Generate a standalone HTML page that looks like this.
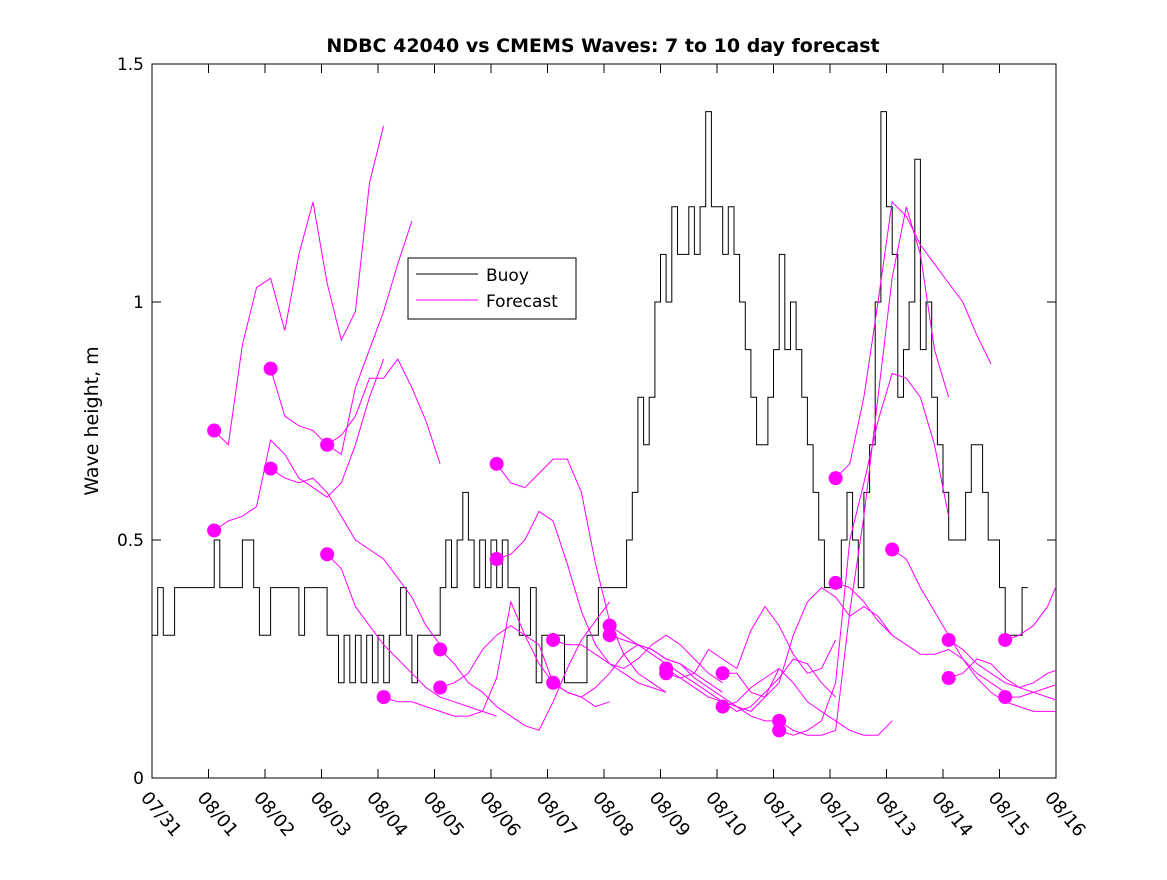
<!DOCTYPE html>
<html><head><meta charset="utf-8">
<style>
body{margin:0;background:#fff;}
svg{font-family:"DejaVu Sans","Liberation Sans",sans-serif;}
</style></head>
<body>
<svg id="chart" width="1167" height="875">
<defs><clipPath id="plotclip"><rect x="152" y="64" width="904" height="714"/></clipPath></defs>
<rect x="0" y="0" width="1167" height="875" fill="#fff"/>
<text x="603" y="52" text-anchor="middle" font-size="19" font-weight="bold">NDBC 42040 vs CMEMS Waves: 7 to 10 day forecast</text>
<text transform="translate(98,421) rotate(-90)" text-anchor="middle" font-size="19">Wave height, m</text>
<g id="axes"></g>
<g id="series" clip-path="url(#plotclip)"></g>
<g>
<rect x="408" y="258" width="168" height="61" fill="#fff" stroke="#000" stroke-width="1"/>
<line x1="416" y1="274" x2="478" y2="274" stroke="#000" stroke-width="1"/>
<text x="486" y="281" font-size="17">Buoy</text>
<line x1="416" y1="300" x2="478" y2="300" stroke="#f0f" stroke-width="1"/>
<text x="486" y="307" font-size="17">Forecast</text>
</g>
</svg>
<script>
const xTickLabels=["07/31","08/01","08/02","08/03","08/04","08/05","08/06","08/07","08/08","08/09","08/10","08/11","08/12","08/13","08/14","08/15","08/16"];
const yTicks=[0,0.5,1,1.5];
const yTickLabels=["0","0.5","1","1.5"];
const buoyStart=0, buoyStep=0.1;
const buoy=[0.3,0.4,0.3,0.3,0.4, 0.4,0.4,0.4,0.4,0.4, 0.4,0.5,0.4,0.4,0.4, 0.4,0.5,0.5,0.4,0.3,
0.3,0.4,0.4,0.4,0.4, 0.4,0.3,0.4,0.4,0.4, 0.4,0.3,0.3,0.2,0.3, 0.2,0.3,0.2,0.3,0.2,
0.3,0.2,0.3,0.3,0.4, 0.3,0.2,0.3,0.3,0.3, 0.3,0.4,0.5,0.4,0.5, 0.6,0.5,0.4,0.5,0.4,
0.5,0.4,0.5,0.4,0.4, 0.3,0.3,0.4,0.2,0.3, 0.3,0.3,0.3,0.2,0.2, 0.2,0.2,0.3,0.3,0.4,
0.4,0.4,0.4,0.4,0.5, 0.6,0.8,0.7,0.8,1.0, 1.1,1.0,1.2,1.1,1.1, 1.2,1.1,1.2,1.4,1.2,
1.2,1.1,1.2,1.1,1.0, 0.9,0.8,0.7,0.7,0.8, 0.9,1.1,0.9,1.0,0.9, 0.8,0.7,0.6,0.5,0.4,
0.4,0.4,0.5,0.6,0.5, 0.4,0.6,0.7,1.0,1.4, 1.2,1.1,0.8,0.9,1.0, 1.3,0.9,1.0,0.8,0.7,
0.6,0.5,0.5,0.5,0.6, 0.7,0.7,0.6,0.5,0.5, 0.4,0.3,0.3,0.3,0.4];
const fcStep=0.25;
const fcStarts=[1.1,1.1,2.1,2.1,3.1,3.1,4.1,5.1,5.1,6.1,6.1,7.1,7.1,8.1,8.1,9.1,9.1,10.1,10.1,11.1,11.1,12.1,12.1,13.1,14.1,14.1,15.1,15.1];
const fcValues=[
[0.73,0.70,0.91,1.03,1.05,0.94,1.10,1.21,1.04,0.92,0.98,1.25,1.37],
[0.52,0.54,0.55,0.57,0.71,0.68,0.63,0.61,0.59,0.62,0.70,0.80,0.88],
[0.86,0.76,0.74,0.73,0.70,0.72,0.76,0.84,0.84,0.88,0.82,0.75,0.66],
[0.65,0.63,0.62,0.63,0.60,0.55,0.50,0.48,0.46,0.42,0.38,0.32,0.28],
[0.70,0.68,0.82,0.90,0.98,1.08,1.17],
[0.47,0.44,0.36,0.32,0.28,0.25,0.22,0.19,0.17,0.16,0.15,0.14,0.13],
[0.17,0.16,0.16,0.15,0.14,0.13,0.13,0.14,0.21,0.37,0.30,0.28,0.20],
[0.27,0.24,0.20,0.18,0.15,0.13,0.11,0.10,0.16,0.23,0.29,0.33,0.37],
[0.19,0.20,0.22,0.27,0.30,0.32,0.30,0.24,0.20,0.18,0.17,0.15,0.16],
[0.66,0.62,0.61,0.64,0.67,0.67,0.60,0.45,0.33,0.26,0.22,0.20,0.18],
[0.46,0.47,0.50,0.56,0.54,0.45,0.35,0.28,0.24,0.22,0.20,0.19,0.18],
[0.29,0.28,0.28,0.26,0.24,0.23,0.25,0.28,0.30,0.28,0.25,0.22,0.20],
[0.20,0.18,0.17,0.19,0.22,0.26,0.28,0.27,0.25,0.24,0.22,0.20,0.18],
[0.32,0.30,0.28,0.27,0.25,0.24,0.21,0.19,0.17,0.15,0.14,0.17,0.23],
[0.30,0.29,0.28,0.26,0.24,0.22,0.20,0.18,0.16,0.15,0.13,0.12,0.12],
[0.23,0.21,0.22,0.27,0.25,0.23,0.31,0.36,0.32,0.26,0.22,0.23,0.29],
[0.22,0.21,0.19,0.17,0.16,0.14,0.15,0.18,0.21,0.25,0.24,0.20,0.17],
[0.22,0.22,0.18,0.17,0.20,0.30,0.37,0.40,0.38,0.34,0.36,0.34,0.30],
[0.15,0.16,0.19,0.21,0.23,0.20,0.16,0.14,0.12,0.10,0.09,0.09,0.12],
[0.12,0.10,0.09,0.09,0.10,0.35,0.55,0.80,1.05,1.20,1.10,0.90,0.80],
[0.10,0.09,0.10,0.12,0.20,0.50,0.62,0.75,0.85,0.84,0.80,0.70,0.55],
[0.63,0.66,0.80,1.00,1.21,1.18,1.12,1.08,1.04,1.00,0.93,0.87],
[0.41,0.40,0.37,0.33,0.30,0.28,0.26,0.26,0.27,0.25,0.22,0.20,0.18],
[0.48,0.46,0.40,0.35,0.30,0.25,0.21,0.18,0.16,0.15,0.14,0.14,0.14],
[0.29,0.27,0.24,0.22,0.20,0.19,0.20,0.22,0.23,0.24,0.23,0.22,0.22],
[0.21,0.22,0.25,0.24,0.21,0.19,0.18,0.19,0.20,0.19,0.17,0.15,0.14],
[0.29,0.30,0.32,0.36,0.43,0.44],
[0.17,0.17,0.18,0.17,0.16,0.15,0.14,0.14]];

const NS="http://www.w3.org/2000/svg";
const X0=152,X1=1056,Y0=778,Y1=64,DAYS=16,YMAX=1.5;
const xs=d=>X0+(X1-X0)*d/DAYS;
const ys=v=>Y0-(Y0-Y1)*v/YMAX;
function mk(tag,attrs,parent){const e=document.createElementNS(NS,tag);for(const k in attrs)e.setAttribute(k,attrs[k]);parent.appendChild(e);return e;}
const axes=document.getElementById('axes'), ser=document.getElementById('series');

const frame=mk('rect',{x:X0,y:Y1,width:X1-X0,height:Y0-Y1,fill:'none',stroke:'#000','stroke-width':1},axes);


xTickLabels.forEach((lab,i)=>{
  const x=xs(i);
  const t1=mk('line',{x1:x,y1:Y0,x2:x,y2:Y0-9,stroke:'#000'},axes);
  
  
  const t2=mk('line',{x1:x,y1:Y1,x2:x,y2:Y1+9,stroke:'#000'},axes);
  
  
  const tx=mk('text',{x:0,y:0,'font-size':18,transform:`translate(${x-12},${Y0+20}) rotate(50)`},axes);
  tx.textContent=lab;
  
  
});
yTicks.forEach((v,i)=>{
  const y=ys(v);
  const t1=mk('line',{x1:X0,y1:y,x2:X0+9,y2:y,stroke:'#000'},axes);
  
  
  const t2=mk('line',{x1:X1,y1:y,x2:X1-9,y2:y,stroke:'#000'},axes);
  
  
  const tx=mk('text',{x:X0-8,y:y+6,'font-size':17,'text-anchor':'end'},axes);
  tx.textContent=yTickLabels[i];
  
  
});

let d='';
buoy.forEach((v,i)=>{
  const xa=xs(buoyStart+i*buoyStep), xb=xs(buoyStart+(i+1)*buoyStep);
  d+=(i===0?'M':'L')+xa.toFixed(1)+','+ys(v).toFixed(1)+'L'+xb.toFixed(1)+','+ys(v).toFixed(1);
});
const bp=mk('path',{d:d,fill:'none',stroke:'#000','stroke-width':1},ser);



fcValues.forEach((vals,k)=>{
  const s=fcStarts[k];
  const pts=vals.map((v,i)=>xs(s+i*fcStep).toFixed(1)+','+ys(v).toFixed(1)).join(' ');
  const pl=mk('polyline',{points:pts,fill:'none',stroke:'#f0f','stroke-width':1},ser);
  
  
  const c=mk('circle',{cx:xs(s),cy:ys(vals[0]),r:7,fill:'#f0f'},ser);
  
  
});
</script>
</body></html>
